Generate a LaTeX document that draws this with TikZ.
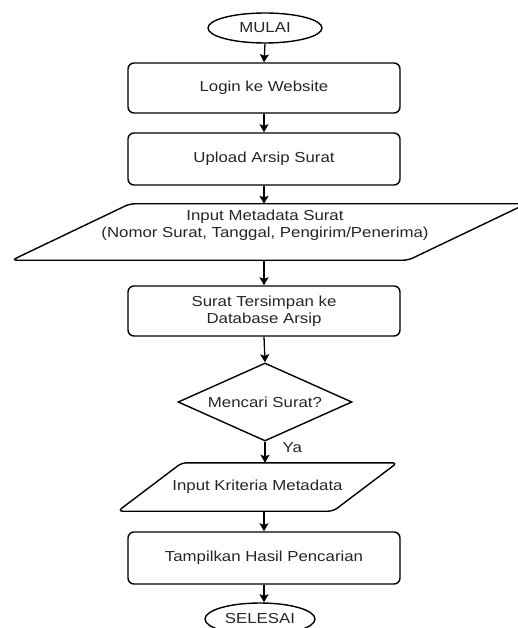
\documentclass[tikz,border=0pt]{standalone}
\usepackage{fontspec}
\setmainfont[FakeStretch=1.16]{Liberation Sans}
\usetikzlibrary{shapes.geometric,arrows.meta}

\begin{document}
\begin{tikzpicture}[x=1pt,y=-1pt,
  every node/.style={font=\fontsize{14.5}{17}\selectfont, text=black!85, align=center, inner sep=0pt},
  outline/.style={draw=black, line width=1.4pt},
  terminal/.style={outline, ellipse, minimum width=114pt, minimum height=30pt},
  process/.style={outline, rectangle, rounded corners=6pt, minimum width=272pt},
  decision/.style={outline, diamond, minimum width=174pt, minimum height=78pt, aspect=2.23},
  iobox/.style={rectangle},
  flow/.style={line width=1.3pt, -{Stealth[width=9pt,length=8pt,inset=1.5pt]}}
]
\clip (0,0) rectangle (518,628);
\fill[white] (0,0) rectangle (518,628);

% start
\node[terminal] (mulai) at (265,28) {MULAI};

% processing steps
\node[process, minimum height=50pt] (login) at (264,88) {Login ke Website};
\node[process, minimum height=52pt] (upload) at (264,159) {Upload Arsip Surat};

% metadata input (parallelogram)
\node[iobox, minimum width=396pt, minimum height=56pt] (meta) at (269,232) {};
\draw[outline, rounded corners=5pt]
  ([xshift=-59pt]meta.south west) -- ([xshift=59pt]meta.north west) --
  ([xshift=59pt]meta.north east) -- ([xshift=-59pt]meta.south east) -- cycle;
\node at (265,225) {Input Metadata Surat\\(Nomor Surat, Tanggal, Pengirim/Penerima)};

\node[process, minimum height=50pt] (simpan) at (264,311) {Surat Tersimpan ke\\Database Arsip};

% decision
\node[decision] (cari) at (265,402) {Mencari Surat?};

% search criteria input (parallelogram)
\node[iobox, minimum width=215pt, minimum height=48pt] (krit) at (257.5,487) {Input Kriteria Metadata};
\draw[outline, rounded corners=5pt]
  ([xshift=-32pt]krit.south west) -- ([xshift=32pt]krit.north west) --
  ([xshift=32pt]krit.north east) -- ([xshift=-32pt]krit.south east) -- cycle;

\node[process, minimum height=52pt] (hasil) at (264,558) {Tampilkan Hasil Pencarian};

% end
\node[terminal, minimum width=110pt, minimum height=32pt] (selesai) at (260,619) {SELESAI};

% connectors
\draw[flow] (mulai.south) -- (login.north);
\draw[flow] (login.south) -- (upload.north);
\draw[flow] (upload.south) -- (upload.south |- meta.north);
\draw[flow] (simpan.north |- meta.south) -- (simpan.north);
\draw[flow] (simpan.south) -- (cari.north);
\draw[flow] (cari.south) -- (cari.south |- krit.north)
  node[pos=0.3, anchor=west, xshift=17pt] (ya) {Ya};
\draw[flow] (hasil.north |- krit.south) -- (hasil.north);
\draw[flow] (hasil.south) -- (hasil.south |- selesai.north);
\end{tikzpicture}
\end{document}
